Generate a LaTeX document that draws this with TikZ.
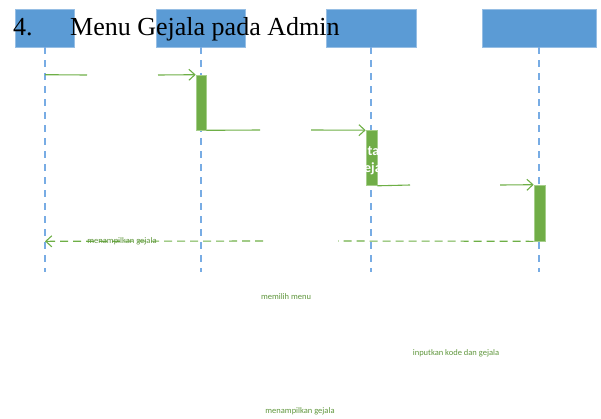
\documentclass[tikz,border=0pt]{standalone}
\usepackage{fontspec}
\setmainfont{Liberation Serif}
\newfontfamily\msgfont{Carlito}
\usetikzlibrary{arrows.meta}
\definecolor{hdrblue}{RGB}{91,155,213}
\definecolor{hdredge}{RGB}{150,190,228}
\definecolor{lifeblue}{RGB}{120,172,228}
\definecolor{actgreen}{RGB}{112,173,71}
\definecolor{actedge}{RGB}{165,206,138}
\definecolor{msggreen}{RGB}{110,175,70}
\definecolor{lblgreen}{RGB}{95,150,60}
\begin{document}
\begin{tikzpicture}[x=1pt,y=-1pt,
  header/.style={fill=hdrblue, draw=hdredge, line width=0.6pt, minimum height=38pt, inner sep=0pt},
  lifeline/.style={draw=lifeblue, line width=1.2pt, dash pattern=on 7pt off 6pt},
  act/.style={fill=actgreen, draw=actedge, line width=0.6pt, inner sep=0pt},
  msg/.style={draw=msggreen, line width=1.1pt},
  reply/.style={msg, dash pattern=on 8pt off 5pt},
  tip/.style={-{Straight Barb[length=6pt,width=11pt]}},
  lbl/.style={text=lblgreen, font=\msgfont\fontsize{8.5}{10}\selectfont, inner sep=0pt, anchor=base}]
\useasboundingbox (0,0) rectangle (601,418);

% object boxes
\node[header, minimum width=59pt]  (obj1) at (45,28) {};
\node[header, minimum width=89pt]  (obj2) at (201,28) {};
\node[header, minimum width=90pt]  (obj3) at (371,28) {};
\node[header, minimum width=114pt] (obj4) at (539,28) {};

% title
\node[anchor=base west, inner sep=0pt, font=\fontsize{26}{30}\selectfont] (num) at (13,35) {4.};
\node[anchor=base west, inner sep=0pt, font=\fontsize{26}{30}\selectfont] (title) at (70,35) {Menu Gejala pada Admin};

% lifelines
\foreach \n/\x in {1/45,2/201,3/371,4/539}{
  \coordinate (end\n) at (\x,272);
  \draw[lifeline] (obj\n.south) -- (end\n);
}

% activations
\node[act, minimum width=10pt, minimum height=55pt] (act1) at (201,102.5) {};
\node[act, minimum width=11pt, minimum height=55pt] (act2) at (371.5,158) {};
\node[act, minimum width=11pt, minimum height=56pt] (act3) at (539.5,213) {};

% white text on act2
\node[anchor=base west, inner sep=0pt, text=white, font=\msgfont\bfseries\fontsize{14}{17}\selectfont] (w1) at (367.5,155) {ta};
\node[anchor=base west, inner sep=0pt, text=white, font=\msgfont\bfseries\fontsize{14}{17}\selectfont] (w2) at (364,172) {eja};

% messages
\coordinate (g1a) at (87,75);   \coordinate (g1b) at (158,75);
\coordinate (g2a) at (260,130); \coordinate (g2b) at (311,130);
\coordinate (g3a) at (410,185); \coordinate (g3b) at (500,185);
\coordinate (g4a) at (338,241); \coordinate (g4b) at (263,241);
\draw[msg] (obj1.south |- act1.north) -- (g1a);
\draw[msg,tip] (g1b) -- (act1.north west);
\draw[msg] (act1.south east) -- (g2a);
\draw[msg,tip] (g2b) -- (act2.north west);
\draw[msg] (act2.south east) -- (g3a);
\draw[msg,tip] (g3b) -- (act3.north west);
\draw[reply] (act3.south west) -- (g4a);
\draw[reply,tip] (g4b) -- (obj1.south |- act3.south);

% labels
\node[lbl] (l1) at (122,243.5) {menampilkan gejala};
\node[lbl] (l2) at (286,299) {memilih menu};
\node[lbl] (l3) at (456,355) {inputkan kode dan gejala};
\node[lbl] (l4) at (300,413) {menampilkan gejala};

\end{tikzpicture}
\end{document}
